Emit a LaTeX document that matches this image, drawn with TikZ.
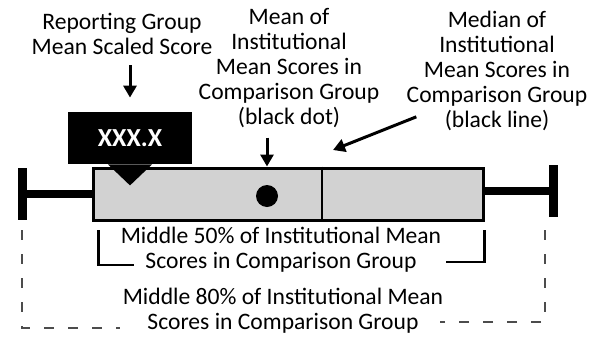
\documentclass[tikz,border=0pt]{standalone}
\usepackage{fontspec}
\setmainfont{Carlito}
\usepackage{tikz}
\usetikzlibrary{positioning}
\usetikzlibrary{calc}
\usetikzlibrary{arrows.meta}

\begin{document}
\begin{tikzpicture}[
    x=0.5pt, y=-0.5pt,
    txt/.style={align=center, inner sep=0pt, font=\fontsize{11.8}{12.4}\selectfont},
    iqrbox/.style={draw, line width=1.5pt, fill=gray!35, minimum width=195pt, minimum height=26pt, inner sep=0pt},
    capbar/.style={fill=black, minimum width=4.5pt, minimum height=26pt, inner sep=0pt},
    whisker/.style={line width=4pt},
    scorebox/.style={fill=black, text=white, font=\bfseries\fontsize{13}{14}\selectfont, minimum width=62pt, minimum height=26pt, inner sep=0pt},
    meandot/.style={circle, fill=black, minimum size=11pt, inner sep=0pt},
    pointer/.style={-{Triangle[length=6pt, width=6.5pt]}, line width=1.5pt},
    bracket/.style={line width=1.3pt},
    dashbracket/.style={line width=0.6pt, gray!60!black, dash pattern=on 5pt off 7pt}
]
\useasboundingbox (0,0) rectangle (605,343);

% Box with whiskers
\node[iqrbox] (box) at (288,194) {};
\node[capbar] (lcap) at (22,194) {};
\node[capbar] (rcap) at (553,191) {};
\draw[whisker] (lcap.center) -- (box.west);
\draw[whisker] (box.east |- rcap) -- (rcap.center);

% Median line and mean dot
\coordinate (med) at (322,194);
\draw[line width=1.2pt] (med |- box.north) -- (med |- box.south);
\node[meandot] (dot) at (267,196) {};

% Reporting group score
\node[scorebox] (score) at (130,138) {XXX.X};
\fill ([xshift=-11pt]score.south) -- ([xshift=11pt]score.south) -- ([yshift=-10.5pt]score.south) -- cycle;

% Labels on top
\node[txt] (rep) at (122,34) {Reporting Group\\Mean Scaled Score};
\node[txt] (meanlbl) at (289,68) {Mean of\\Institutional\\Mean Scores in\\Comparison Group\\(black dot)};
\node[txt] (medlbl) at (497,71) {Median of\\Institutional\\Mean Scores in\\Comparison Group\\(black line)};

\draw[pointer, shorten <=5pt, shorten >=7pt] (rep.south -| score.north) -- (score.north);
\draw[pointer, shorten <=5pt] (meanlbl.south -| dot) -- (dot |- box.north);
\coordinate (medtip) at (333,150);
\draw[pointer] ([shift={(5pt,7pt)}]medlbl.south west) -- (medtip);

% Middle 50%
\node[txt] (mid50) at (281,250) {Middle 50\% of Institutional Mean\\Scores in Comparison Group};
\draw[bracket] (box.south west |- 0,230) ++(7,0) coordinate (b1) -- (b1 |- 0,265) -- ++(35,0);
\draw[bracket] (box.south east |- 0,230) coordinate (b2) -- (b2 |- 0,262) -- ++(-39,0);

% Middle 80%
\node[txt] (mid80) at (283,311) {Middle 80\% of Institutional Mean\\Scores in Comparison Group};
\draw[dashbracket] (lcap.south |- 0,230) coordinate (d1) -- (d1 |- 0,328) -- ++(98,0);
\draw[dashbracket] (545,230) coordinate (d2) -- (d2 |- 0,322) -- ++(-105,0);

\end{tikzpicture}
\end{document}
